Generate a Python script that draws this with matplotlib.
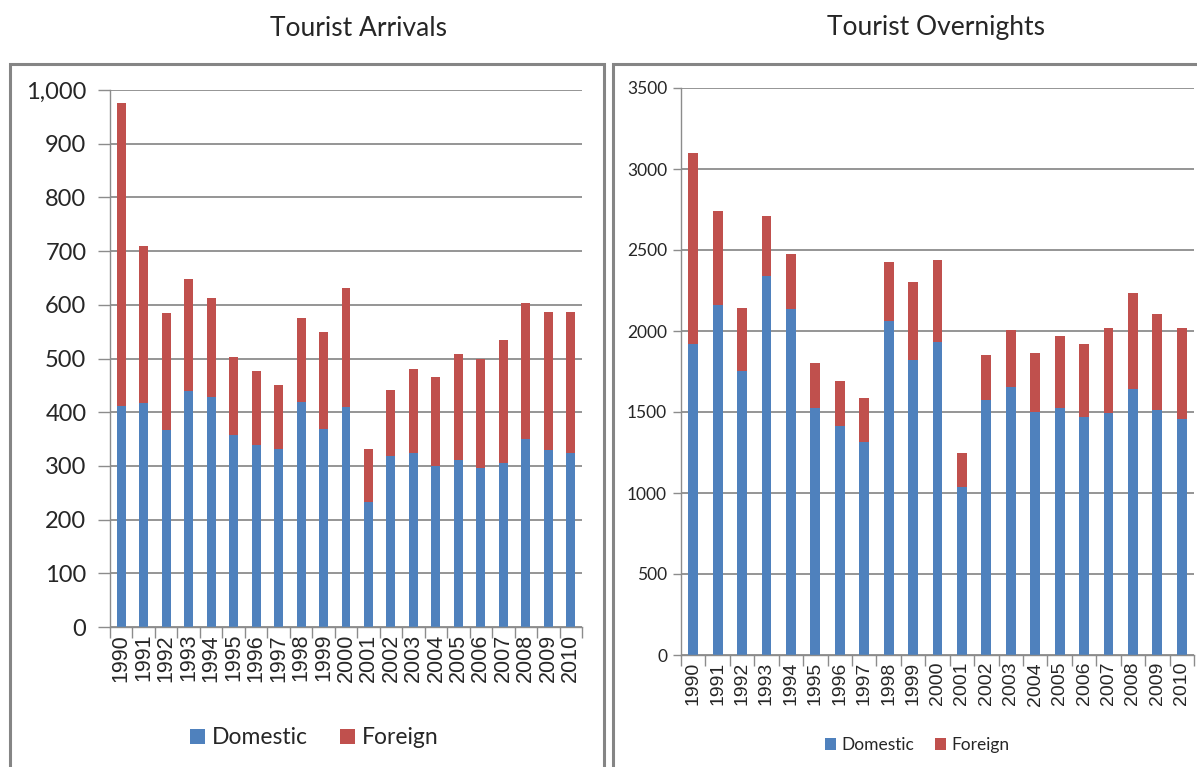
import matplotlib
matplotlib.use("Agg")
import matplotlib.pyplot as plt
from matplotlib.patches import Rectangle, Patch
from matplotlib.ticker import FuncFormatter, FixedLocator
import numpy as np

years = [str(y) for y in range(1990, 2011)]

arrivals_domestic = [412, 417, 367, 440, 428, 357, 339, 332, 419, 369, 410,
                     233, 318, 324, 299, 311, 297, 306, 351, 330, 324]
arrivals_total = [975, 710, 585, 648, 612, 503, 477, 451, 575, 549, 632,
                  331, 441, 481, 465, 508, 499, 535, 603, 587, 587]

overnights_domestic = [1920, 2162, 1754, 2337, 2137, 1524, 1411, 1317, 2062, 1822, 1932,
                       1036, 1571, 1657, 1502, 1522, 1471, 1495, 1645, 1512, 1458]
overnights_total = [3100, 2740, 2140, 2710, 2475, 1805, 1693, 1585, 2425, 2305, 2437,
                    1248, 1850, 2008, 1862, 1968, 1918, 2021, 2235, 2103, 2021]

arrivals_foreign = [t - d for t, d in zip(arrivals_total, arrivals_domestic)]
overnights_foreign = [t - d for t, d in zip(overnights_total, overnights_domestic)]

BLUE = "#4F81BD"
RED = "#C0504D"
GRID = "#8c8c8c"
TXT = "#262626"

W, H = 1197, 767
fig = plt.figure(figsize=(W / 100, H / 100), dpi=100)
fig.patch.set_facecolor("white")

def fx(px):
    return px / W

def fy(py):
    return 1 - py / H

# panel frames
for (x0, x1) in [(10, 604), (613, 1240)]:
    fig.patches.append(Rectangle((fx(x0), fy(800)), fx(x1) - fx(x0), fy(64) - fy(800),
                                 transform=fig.transFigure, fill=False,
                                 edgecolor="#858585", linewidth=2.2, clip_on=False))

def style_axes(ax, ymax, ystep, yfmt, ylab_size, ypad, xlab_size, tick_len):
    x = np.arange(len(years))
    ax.set_xlim(-0.5, len(years) - 0.5)
    ax.set_ylim(0, ymax)
    ax.set_yticks(np.arange(0, ymax + 1, ystep))
    ax.yaxis.set_major_formatter(FuncFormatter(yfmt))
    ax.grid(axis="y", color=GRID, linewidth=1.3, zorder=0)
    ax.set_axisbelow(True)
    for s in ["top", "right"]:
        ax.spines[s].set_visible(False)
    for s in ["left", "bottom"]:
        ax.spines[s].set_color(GRID)
        ax.spines[s].set_linewidth(1.0)
    ax.tick_params(axis="y", length=tick_len, color=GRID, width=1.0, pad=ypad,
                   labelsize=ylab_size, labelcolor=TXT)
    for lab in ax.get_yticklabels():
        lab.set_fontfamily("Lato")
    ax.set_xticks(x)
    ax.set_xticklabels(years, rotation=90, fontsize=xlab_size, color=TXT,
                       fontfamily="Liberation Sans", va="top")
    ax.tick_params(axis="x", which="major", length=0, pad=5)
    ax.xaxis.set_minor_locator(FixedLocator(np.arange(-0.5, len(years), 1.0)))
    ax.tick_params(axis="x", which="minor", length=8, color=GRID, width=1.0)

x = np.arange(len(years))

# Left chart
ax1 = fig.add_axes([fx(110), fy(627), fx(582) - fx(110), fy(90) - fy(627)])
ax1.bar(x, arrivals_domestic, width=0.4, color=BLUE, zorder=2)
ax1.bar(x, arrivals_foreign, bottom=arrivals_domestic, width=0.4, color=RED, zorder=2)
style_axes(ax1, 1000, 100, lambda v, p: f"{int(v):,}", 17, 8, 15.5, 9)

# Right chart
ax2 = fig.add_axes([fx(681), fy(655), fx(1194) - fx(681), fy(88) - fy(655)])
ax2.bar(x, overnights_domestic, width=0.4, color=BLUE, zorder=2)
ax2.bar(x, overnights_foreign, bottom=overnights_domestic, width=0.4, color=RED, zorder=2)
style_axes(ax2, 3500, 500, lambda v, p: f"{int(v)}", 12.5, 4, 14, 6)

# Titles
fig.text(fx(359), fy(28), "Tourist Arrivals", ha="center", va="center",
         fontsize=19, fontfamily="Lato", color=TXT)
fig.text(fx(936), fy(28), "Tourist Overnights", ha="center", va="center",
         fontsize=19, fontfamily="Lato", color=TXT)

# Legends
handles = [Patch(facecolor=BLUE, edgecolor="none", label="Domestic"),
           Patch(facecolor=RED, edgecolor="none", label="Foreign")]
fig.legend(handles=handles, loc="center", bbox_to_anchor=(fx(314), fy(738)),
           ncol=2, frameon=False, prop={"family": "Lato", "size": 16.5},
           handlelength=0.65, handleheight=0.65, handletextpad=0.3,
           columnspacing=1.4, labelcolor=TXT)
fig.legend(handles=handles, loc="center", bbox_to_anchor=(fx(917), fy(745)),
           ncol=2, frameon=False, prop={"family": "Lato", "size": 12.5},
           handlelength=0.65, handleheight=0.65, handletextpad=0.3,
           columnspacing=1.2, labelcolor=TXT)

fig.savefig("out.png", dpi=100)
